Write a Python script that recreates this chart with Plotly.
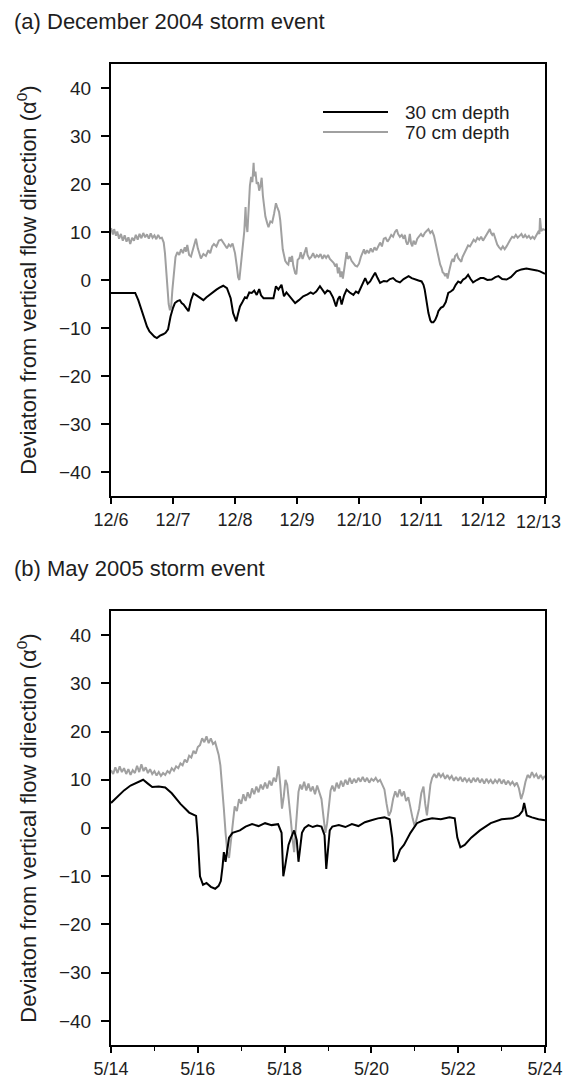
import pandas as pd
import plotly.graph_objects as go
from plotly.subplots import make_subplots

# ---------------- (a) December 2004 storm event ----------------
# time in days after 2004-12-06 00:00, deviation in degrees
dec_30cm_t = [0.00, 0.39, 0.44, 0.49, 0.54, 0.58, 0.62, 0.66, 0.70, 0.74, 0.79, 0.84, 0.88, 0.92,
              0.96, 1.00, 1.03, 1.07, 1.11, 1.14, 1.17, 1.21, 1.25, 1.29, 1.33, 1.38, 1.44, 1.49,
              1.54, 1.60, 1.65, 1.70, 1.75, 1.81, 1.87, 1.93, 1.97, 2.02, 2.05, 2.08, 2.12, 2.16,
              2.19, 2.23, 2.27, 2.31, 2.35, 2.39, 2.42, 2.46, 2.52, 2.57, 2.62, 2.66, 2.70, 2.75,
              2.79, 2.83, 2.86, 2.91, 2.97, 3.03, 3.10, 3.17, 3.22, 3.26, 3.31, 3.37, 3.41, 3.45,
              3.49, 3.53, 3.58, 3.63, 3.66, 3.69, 3.72, 3.76, 3.80, 3.85, 3.91, 3.95, 3.99, 4.04,
              4.10, 4.14, 4.18, 4.22, 4.26, 4.30, 4.34, 4.40, 4.45, 4.50, 4.55, 4.60, 4.66, 4.72,
              4.80, 4.85, 4.90, 4.96, 5.01, 5.04, 5.06, 5.09, 5.12, 5.15, 5.17, 5.20, 5.23, 5.26,
              5.28, 5.32, 5.36, 5.40, 5.44, 5.48, 5.52, 5.56, 5.60, 5.64, 5.68, 5.72, 5.76, 5.80,
              5.84, 5.90, 5.96, 6.01, 6.07, 6.14, 6.20, 6.25, 6.31, 6.38, 6.45, 6.54, 6.62, 6.70,
              6.76, 6.81, 6.87, 6.92, 6.96, 7.00]
dec_30cm_v = [-2.7, -2.7, -4.2, -6.2, -8.4, -9.7, -10.7, -11.3, -11.8, -12.1, -11.6, -11.3, -11.0, -10.3,
              -7.6, -5.8, -4.8, -4.4, -4.2, -4.8, -5.1, -5.8, -6.5, -4.2, -2.8, -3.2, -3.8, -4.2,
              -3.6, -3.0, -2.4, -2.0, -1.6, -1.2, -1.7, -3.8, -6.9, -8.6, -7.0, -5.5, -4.6, -3.6,
              -3.8, -2.6, -2.7, -2.2, -3.1, -1.9, -3.2, -3.8, -3.8, -3.8, -3.8, -1.3, -2.0, -1.0,
              -3.4, -2.6, -3.1, -3.8, -4.8, -4.2, -3.4, -3.0, -2.6, -2.9, -2.4, -1.3, -2.0, -2.8,
              -2.2, -2.4, -3.6, -5.5, -4.0, -3.4, -5.1, -3.2, -2.0, -2.6, -3.1, -2.4, -2.7, -1.2,
              0.4, -0.8, -0.3, 0.6, 1.5, 0.4, -0.6, -0.2, -0.3, 0.2, 0.4, -0.2, -0.5, 0.2,
              0.8, 0.4, 0.1, -0.1, -0.3, -1.0, -2.0, -4.5, -6.9, -8.4, -8.8, -8.8, -8.3, -7.4,
              -6.5, -5.8, -5.5, -4.6, -2.7, -2.4, -2.0, -1.0, -0.3, -0.6, 0.1, 0.4, 1.1, 0.2,
              -0.5, 0.0, 0.4, 0.4, 0.0, 0.1, 0.6, 0.8, 0.2, 0.1, 0.6, 1.8, 2.2, 2.4,
              2.3, 2.2, 2.0, 1.8, 1.6, 1.3]

dec_70cm_t = [0.00, 0.03, 0.05, 0.08, 0.10, 0.13, 0.16, 0.19, 0.22, 0.25, 0.28, 0.31, 0.34, 0.37,
              0.40, 0.43, 0.46, 0.49, 0.52, 0.55, 0.58, 0.61, 0.64, 0.67, 0.70, 0.73, 0.76, 0.79,
              0.82, 0.85, 0.87, 0.89, 0.91, 0.93, 0.95, 0.97, 0.99, 1.01, 1.04, 1.07, 1.10, 1.13,
              1.16, 1.19, 1.21, 1.23, 1.26, 1.29, 1.32, 1.35, 1.37, 1.40, 1.43, 1.45, 1.49, 1.53,
              1.57, 1.60, 1.63, 1.66, 1.70, 1.74, 1.78, 1.81, 1.84, 1.87, 1.90, 1.93, 1.96, 1.98,
              2.00, 2.03, 2.05, 2.07, 2.09, 2.11, 2.13, 2.15, 2.17, 2.18, 2.20, 2.22, 2.24, 2.26,
              2.28, 2.30, 2.31, 2.33, 2.35, 2.37, 2.39, 2.41, 2.43, 2.45, 2.47, 2.49, 2.52, 2.54,
              2.57, 2.60, 2.63, 2.66, 2.68, 2.71, 2.73, 2.75, 2.77, 2.79, 2.81, 2.84, 2.86, 2.88,
              2.90, 2.92, 2.94, 2.97, 2.99, 3.01, 3.04, 3.06, 3.09, 3.12, 3.15, 3.17, 3.20, 3.23,
              3.26, 3.29, 3.32, 3.35, 3.38, 3.41, 3.44, 3.47, 3.50, 3.53, 3.56, 3.59, 3.62, 3.64,
              3.66, 3.68, 3.70, 3.72, 3.74, 3.76, 3.78, 3.80, 3.82, 3.85, 3.88, 3.91, 3.94, 3.97,
              4.00, 4.03, 4.06, 4.08, 4.10, 4.13, 4.16, 4.19, 4.22, 4.25, 4.28, 4.31, 4.34, 4.37,
              4.40, 4.43, 4.46, 4.49, 4.52, 4.55, 4.58, 4.61, 4.63, 4.66, 4.69, 4.72, 4.74, 4.76,
              4.78, 4.80, 4.82, 4.84, 4.86, 4.88, 4.91, 4.94, 4.97, 5.00, 5.03, 5.06, 5.09, 5.12,
              5.15, 5.18, 5.21, 5.23, 5.25, 5.27, 5.29, 5.31, 5.33, 5.35, 5.37, 5.39, 5.41, 5.43,
              5.45, 5.47, 5.49, 5.51, 5.53, 5.55, 5.58, 5.60, 5.63, 5.65, 5.67, 5.70, 5.73, 5.76,
              5.79, 5.82, 5.85, 5.88, 5.91, 5.94, 5.97, 6.00, 6.03, 6.06, 6.09, 6.11, 6.13, 6.15,
              6.17, 6.19, 6.21, 6.23, 6.26, 6.29, 6.32, 6.35, 6.38, 6.41, 6.44, 6.47, 6.50, 6.53,
              6.56, 6.59, 6.62, 6.65, 6.68, 6.71, 6.74, 6.77, 6.80, 6.83, 6.86, 6.89, 6.91, 6.92,
              6.94, 6.97, 7.00]
dec_70cm_v = [10.8, 9.5, 10.6, 9.2, 10.1, 8.6, 9.6, 8.2, 9.3, 8.0, 8.9, 7.5, 8.8, 8.2,
              9.4, 8.4, 9.6, 8.7, 9.8, 8.9, 9.5, 8.6, 9.7, 8.8, 9.3, 8.5, 9.4, 8.7,
              8.8, 7.8, 5.6, 2.0, -1.5, -5.0, -6.3, -5.6, -2.0, 1.5, 4.8, 5.8, 5.2, 6.4,
              5.6, 6.8, 5.9, 7.3, 5.2, 4.9, 6.2, 7.6, 8.6, 6.6, 5.0, 4.5, 5.4, 5.0,
              6.2, 5.6, 7.0, 7.5, 7.0, 8.2, 8.4, 7.8, 7.2, 6.6, 7.4, 7.0, 7.6, 6.8,
              5.6, 2.8, 0.6, 0.0, 2.4, 5.0, 8.0, 10.2, 15.2, 12.0, 10.0, 15.0, 19.6, 21.5,
              20.4, 24.4, 21.6, 22.6, 20.0, 20.4, 18.6, 19.6, 21.3, 17.5, 14.6, 13.2, 11.8, 11.0,
              12.2, 12.0, 13.8, 16.0, 15.2, 14.2, 12.4, 8.8, 6.4, 5.2, 4.0, 3.4, 3.2, 4.8,
              3.8, 5.0, 3.0, 1.4, 1.2, 4.2, 4.6, 5.8, 4.4, 5.6, 6.8, 5.2, 4.4, 4.8,
              5.6, 4.6, 5.2, 4.8, 5.4, 4.4, 5.2, 4.6, 5.2, 4.4, 4.0, 3.6, 2.8, 3.4,
              1.4, 2.6, 0.6, 1.8, 0.3, 2.5, 4.8, 5.8, 4.4, 5.0, 4.0, 3.4, 3.0, 2.8,
              3.4, 4.8, 5.6, 6.4, 5.4, 6.2, 5.6, 6.6, 5.8, 6.8, 6.2, 7.2, 7.8, 7.0,
              8.6, 8.8, 8.0, 8.6, 9.4, 9.0, 10.0, 10.5, 9.6, 9.0, 9.4, 8.6, 9.4, 8.0,
              7.4, 8.0, 9.6, 7.6, 7.0, 8.2, 7.4, 8.6, 9.0, 9.6, 9.0, 9.8, 10.2, 10.6,
              9.8, 10.2, 9.2, 8.0, 6.6, 5.2, 4.2, 3.2, 2.6, 1.6, 1.4, 0.8, 1.4, 0.3,
              1.6, 2.8, 3.8, 4.4, 3.8, 5.0, 5.4, 4.6, 4.0, 3.8, 4.8, 5.6, 6.4, 7.2,
              7.0, 7.8, 8.4, 8.0, 8.8, 8.4, 9.0, 8.2, 8.8, 9.6, 10.0, 10.6, 9.8, 9.4,
              9.8, 8.8, 8.2, 7.4, 6.8, 6.4, 7.0, 6.4, 7.0, 7.8, 8.4, 9.0, 8.8, 9.4,
              8.8, 9.2, 9.6, 8.8, 9.4, 8.8, 9.2, 8.6, 9.0, 8.6, 9.4, 10.0, 9.6, 12.9,
              10.2, 10.6, 10.4]

# ---------------- (b) May 2005 storm event ----------------
# time in days after 2005-05-14 00:00
may_30cm_t = [0.00, 0.15, 0.30, 0.45, 0.60, 0.74, 0.85, 0.95, 1.10, 1.25, 1.40, 1.60, 1.80, 1.96,
              2.00, 2.05, 2.12, 2.20, 2.30, 2.40, 2.48, 2.53, 2.57, 2.60, 2.64, 2.68, 2.72, 2.80,
              2.97, 3.10, 3.25, 3.40, 3.55, 3.70, 3.85, 3.93, 3.97, 4.01, 4.05, 4.09, 4.15, 4.22,
              4.28, 4.32, 4.36, 4.40, 4.46, 4.55, 4.65, 4.75, 4.85, 4.92, 4.96, 5.00, 5.04, 5.10,
              5.25, 5.40, 5.55, 5.70, 5.85, 6.00, 6.15, 6.30, 6.42, 6.48, 6.52, 6.58, 6.66, 6.75,
              6.90, 7.05, 7.20, 7.40, 7.60, 7.80, 7.92, 7.98, 8.05, 8.15, 8.30, 8.50, 8.75, 9.00,
              9.25, 9.40, 9.48, 9.52, 9.58, 9.70, 9.85, 10.00]
may_30cm_v = [5.2, 6.5, 7.8, 8.8, 9.5, 10.0, 9.2, 8.5, 8.6, 8.4, 7.2, 5.0, 3.2, 2.5,
              -2.0, -10.0, -11.8, -11.4, -12.2, -12.6, -12.0, -11.0, -8.0, -5.0, -7.0, -4.0, -2.0, -1.0,
              -0.5, 0.3, 0.8, 0.4, 1.0, 0.6, 0.8, -1.0, -10.0, -8.0, -6.0, -3.5, -2.0, -0.5,
              -2.5, -7.0, -4.0, -1.0, 0.0, 0.6, 0.2, 0.5, 0.3, -1.5, -8.5, -4.0, -0.5, 0.3,
              0.6, 0.2, 0.8, 0.4, 1.2, 1.6, 2.0, 2.2, 1.8, -2.0, -7.0, -6.5, -4.5, -3.5,
              -1.0, 1.0, 1.6, 2.0, 1.8, 2.2, 2.0, -2.0, -4.0, -3.5, -2.0, -0.5, 1.0, 1.8,
              2.0, 2.6, 3.5, 5.2, 2.6, 2.2, 1.8, 1.6]

may_70cm_t = [0.00, 0.05, 0.10, 0.15, 0.20, 0.25, 0.30, 0.35, 0.40, 0.45,
              0.50, 0.55, 0.60, 0.65, 0.70, 0.75, 0.80, 0.85, 0.90, 0.95,
              1.00, 1.05, 1.10, 1.15, 1.20, 1.25, 1.30, 1.35, 1.40, 1.45,
              1.50, 1.55, 1.60, 1.65, 1.70, 1.75, 1.80, 1.85, 1.90, 1.95,
              2.00, 2.05, 2.10, 2.15, 2.20, 2.25, 2.30, 2.35, 2.40, 2.44,
              2.48, 2.52, 2.56, 2.60, 2.64, 2.68, 2.72, 2.76, 2.80, 2.85,
              2.90, 2.95, 3.00, 3.05, 3.10, 3.15, 3.20, 3.25, 3.30, 3.35,
              3.40, 3.45, 3.50, 3.55, 3.60, 3.65, 3.70, 3.75, 3.80, 3.86,
              3.90, 3.94, 3.98, 4.02, 4.06, 4.10, 4.14, 4.18, 4.22, 4.25,
              4.28, 4.32, 4.36, 4.40, 4.45, 4.50, 4.55, 4.60, 4.65, 4.70,
              4.75, 4.80, 4.85, 4.90, 4.94, 4.98, 5.02, 5.06, 5.10, 5.15,
              5.20, 5.25, 5.30, 5.35, 5.40, 5.45, 5.50, 5.55, 5.60, 5.65,
              5.70, 5.75, 5.80, 5.85, 5.90, 5.95, 6.00, 6.05, 6.10, 6.15,
              6.20, 6.25, 6.30, 6.35, 6.40, 6.45, 6.50, 6.55, 6.60, 6.65,
              6.70, 6.75, 6.80, 6.85, 6.90, 6.95, 7.00, 7.05, 7.10, 7.15,
              7.20, 7.24, 7.28, 7.32, 7.36, 7.40, 7.45, 7.50, 7.55, 7.60,
              7.65, 7.70, 7.75, 7.80, 7.85, 7.90, 7.95, 8.00, 8.05, 8.10,
              8.15, 8.20, 8.25, 8.30, 8.35, 8.40, 8.45, 8.50, 8.55, 8.60,
              8.65, 8.70, 8.75, 8.80, 8.85, 8.90, 8.95, 9.00, 9.05, 9.10,
              9.15, 9.20, 9.25, 9.30, 9.35, 9.40, 9.45, 9.50, 9.55, 9.60,
              9.65, 9.70, 9.75, 9.80, 9.85, 9.90, 9.95, 10.00]
may_70cm_v = [12.0, 11.2, 12.6, 11.4, 12.8, 11.6, 12.4, 11.2, 12.2, 11.0,
              12.0, 11.4, 12.9, 11.6, 13.2, 11.8, 12.6, 11.4, 12.2, 11.2,
              11.8, 10.9, 11.6, 10.8, 11.4, 11.0, 11.8, 11.4, 12.4, 11.9,
              12.8, 12.4, 13.4, 13.0, 14.2, 13.6, 15.0, 14.6, 16.0, 15.4,
              16.8, 17.2, 18.6, 17.8, 19.0, 17.6, 18.6, 17.4, 17.8, 16.4,
              15.2, 13.0, 9.0, 4.0, -1.0, -5.0, -6.2, -3.0, 1.0, 4.5,
              3.5, 6.0, 5.0, 7.0, 5.6, 7.4, 6.2, 8.2, 7.0, 8.6,
              7.4, 9.0, 8.0, 9.4, 8.2, 9.8, 8.8, 10.4, 9.6, 12.8,
              9.0, 4.0, 6.5, 10.0, 9.0, 6.0, 2.0, -2.0, -5.0, -1.0,
              3.0, 7.5, 9.0, 8.0, 9.6, 7.8, 9.2, 7.6, 8.6, 7.0,
              8.8, 7.4, 6.0, 2.0, -1.0, 1.0, 5.0, 7.8, 8.8, 7.6,
              9.4, 8.2, 9.8, 8.6, 10.0, 9.0, 10.4, 9.2, 10.2, 9.4,
              10.4, 9.6, 10.6, 9.6, 10.4, 9.4, 10.2, 9.8, 10.4, 9.6,
              10.0, 9.0, 8.0, 5.0, 2.5, 3.5, 6.0, 7.6, 6.4, 8.0,
              6.6, 7.6, 5.6, 6.4, 4.0, 2.0, 0.3, 2.5, 4.0, 7.2,
              8.6, 5.0, 2.6, 5.8, 9.0, 10.4, 11.2, 10.4, 11.4, 10.6,
              11.2, 10.2, 11.0, 10.2, 10.8, 9.8, 10.6, 9.8, 10.6, 9.6,
              10.4, 9.6, 10.2, 9.4, 10.4, 9.6, 10.4, 9.4, 10.2, 9.2,
              10.2, 9.4, 10.0, 9.2, 10.0, 9.4, 10.2, 9.2, 10.0, 9.0,
              9.8, 9.0, 9.6, 8.8, 9.4, 8.2, 6.0, 7.4, 9.6, 11.0,
              10.4, 11.6, 10.6, 11.2, 10.2, 11.0, 10.2, 10.8]

dec_start = pd.Timestamp("2004-12-06")
may_start = pd.Timestamp("2005-05-14")
dec_ticks = [f"12/{d}" for d in range(6, 14)]
may_ticks = [f"5/{d}" for d in range(14, 25, 2)]


def to_time(start, offsets):
    return [start + pd.Timedelta(days=d) for d in offsets]


BLACK = "#000000"
GREY = "#a0a0a0"
TEXT = "#1e1e1e"
FONT = "Liberation Sans, Arial, sans-serif"
EPS = pd.Timedelta(seconds=30)
XTICK_SIZE = 18

fig = make_subplots(rows=2, cols=1)

panels = [
    (1, dec_start, dec_30cm_t, dec_30cm_v, dec_70cm_t, dec_70cm_v),
    (2, may_start, may_30cm_t, may_30cm_v, may_70cm_t, may_70cm_v),
]
for row, start, t30, v30, t70, v70 in panels:
    fig.add_trace(go.Scatter(x=to_time(start, t70), y=v70, mode="lines",
                             line=dict(color=GREY, width=2), name="70 cm depth",
                             showlegend=False), row=row, col=1)
    fig.add_trace(go.Scatter(x=to_time(start, t30), y=v30, mode="lines",
                             line=dict(color=BLACK, width=2), name="30 cm depth",
                             showlegend=False), row=row, col=1)

W, H = 564, 1080
plot_left, plot_right = 111, 545
top_a, bot_a = 64, 496
top_b, bot_b = 611, 1045

axis_common = dict(showline=True, linecolor=BLACK, linewidth=2, mirror=True,
                   ticks="outside", tickwidth=1.5, tickcolor=BLACK,
                   showgrid=False, zeroline=False, automargin=False)
y_common = dict(axis_common, ticklen=8, ticklabelstandoff=6, range=[-45, 45],
                tickvals=list(range(-40, 41, 10)),
                tickfont=dict(family=FONT, size=19, color=TEXT))
x_common = dict(axis_common, ticklen=6, ticklabelstandoff=0, domain=[0, 1],
                ticklabeloverflow="allow",
                tickfont=dict(family=FONT, size=XTICK_SIZE, color=TEXT))

ytitle = dict(text="Deviaton from vertical flow direction (\u03b1<sup>0</sup>)",
              font=dict(family=FONT, size=22, color=TEXT), standoff=16)

# the last December label sits at the page edge, so it is set flush right separately
fig.update_layout(
    width=W, height=H,
    margin=dict(l=plot_left, r=W - plot_right, t=0, b=0),
    paper_bgcolor="white", plot_bgcolor="white",
    showlegend=False,
    xaxis=dict(x_common,
               range=[dec_start - EPS, dec_start + pd.Timedelta(days=7) + EPS],
               tickvals=to_time(dec_start, range(8)), ticktext=dec_ticks[:-1] + [""]),
    yaxis=dict(y_common, domain=[1 - bot_a / H, 1 - top_a / H], title=ytitle),
    xaxis2=dict(x_common,
                range=[may_start - EPS, may_start + pd.Timedelta(days=10) + EPS],
                tickvals=to_time(may_start, range(0, 11, 2)), ticktext=may_ticks,
                minor=dict(tickvals=to_time(may_start, range(1, 10, 2)), ticks="outside",
                           ticklen=4, tickwidth=1.2, tickcolor=BLACK)),
    yaxis2=dict(y_common, domain=[1 - bot_b / H, 1 - top_b / H], title=ytitle),
)

fig.add_annotation(text=dec_ticks[-1], xref="paper", yref="paper",
                   x=(W - 1 - plot_left) / (plot_right - plot_left), y=1 - (bot_a + 14) / H,
                   xanchor="right", yanchor="top", showarrow=False,
                   font=dict(family=FONT, size=XTICK_SIZE, color=TEXT))

# panel headings
for text, ypix in [("(a) December 2004 storm event", 21), ("(b) May 2005 storm event", 568)]:
    fig.add_annotation(text=text, xref="paper", yref="paper",
                       x=-(plot_left - 12) / (plot_right - plot_left), y=1 - ypix / H,
                       xanchor="left", yanchor="middle", showarrow=False,
                       font=dict(family=FONT, size=22, color=TEXT))

# legend for panel (a)
for label, color, ypix in [("30 cm depth", BLACK, 112), ("70 cm depth", GREY, 132)]:
    x0 = (323 - plot_left) / (plot_right - plot_left)
    x1 = (388 - plot_left) / (plot_right - plot_left)
    yy = 1 - ypix / H
    fig.add_shape(type="line", xref="paper", yref="paper", x0=x0, x1=x1, y0=yy, y1=yy,
                  line=dict(color=color, width=2))
    fig.add_annotation(text=label, xref="paper", yref="paper",
                       x=(403 - plot_left) / (plot_right - plot_left), y=yy,
                       xanchor="left", yanchor="middle", showarrow=False,
                       font=dict(family=FONT, size=19, color=TEXT))

fig.write_html("out.html")
